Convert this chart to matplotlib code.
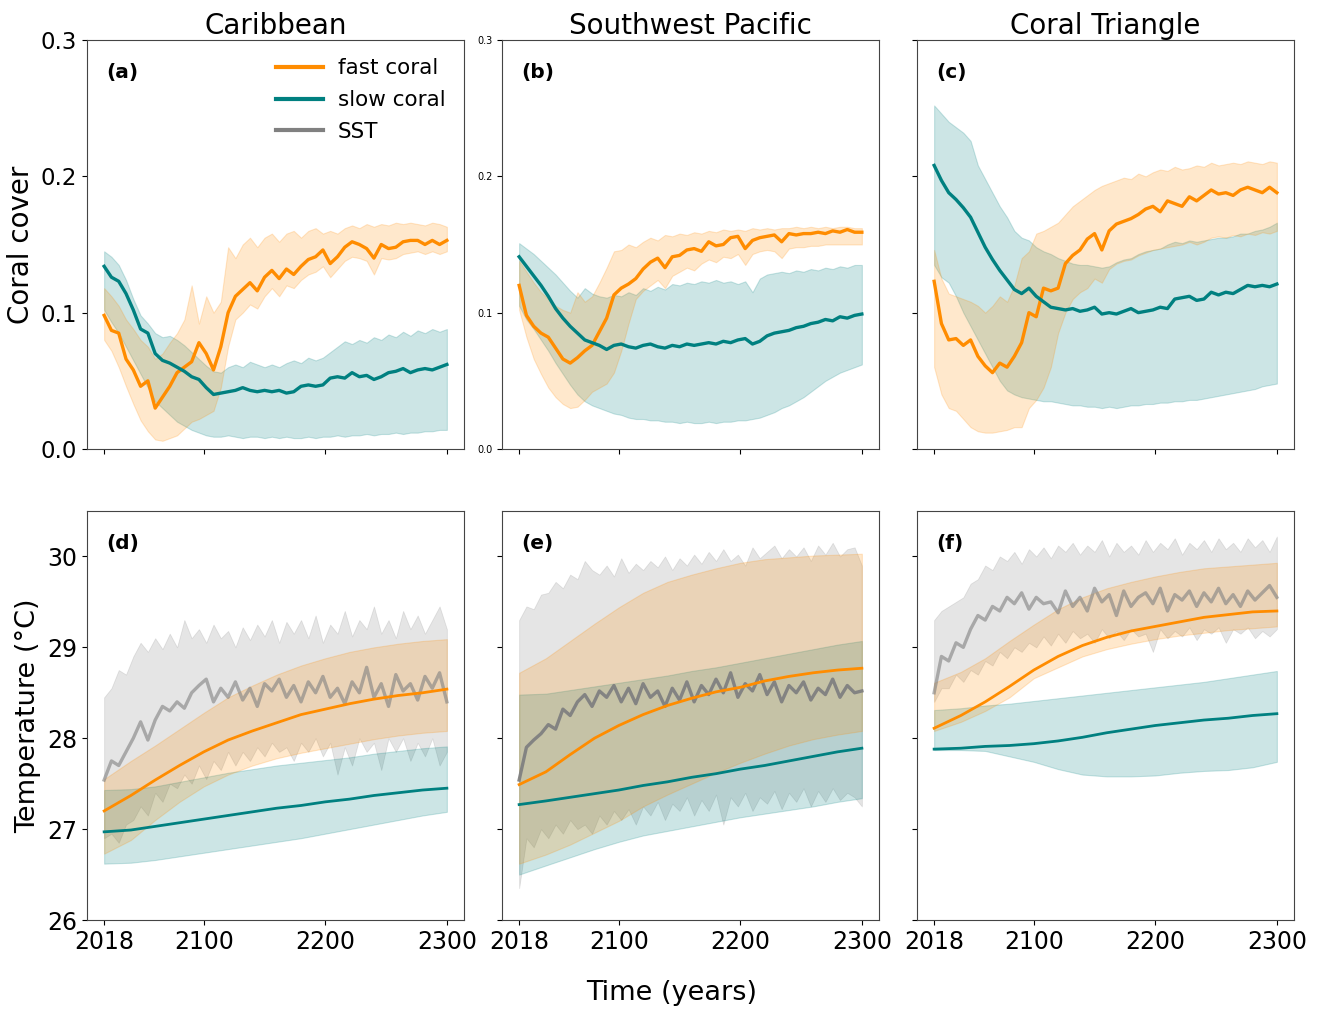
import matplotlib
matplotlib.use('Agg')
import matplotlib.pyplot as plt
from matplotlib.lines import Line2D

# ---------------- data ----------------
years = list(range(2018, 2301, 6))   # 48 sample years for noisy series
years_smooth = [2018, 2040, 2060, 2080, 2100, 2120, 2140, 2160, 2180, 2200, 2220, 2240, 2260, 2280, 2300]
regions = ['Caribbean', 'Southwest Pacific', 'Coral Triangle']
xticks = [2018, 2100, 2200, 2300]
cover_ticks = [0.0, 0.1, 0.2, 0.3]
temp_ticks = [26, 27, 28, 29, 30]

# --- coral cover: Caribbean ---
car_fast = [0.098, 0.087, 0.085, 0.066, 0.058, 0.046, 0.050, 0.030, 0.038, 0.046, 0.056, 0.060,
            0.064, 0.078, 0.070, 0.058, 0.075, 0.100, 0.112, 0.117, 0.122, 0.116, 0.126, 0.131,
            0.125, 0.132, 0.128, 0.134, 0.139, 0.141, 0.146, 0.136, 0.141, 0.148, 0.152, 0.150,
            0.147, 0.140, 0.150, 0.147, 0.148, 0.152, 0.153, 0.153, 0.150, 0.153, 0.150, 0.153]
car_fast_hi = [0.118, 0.112, 0.105, 0.095, 0.088, 0.080, 0.075, 0.066, 0.070, 0.078, 0.085, 0.095,
               0.120, 0.092, 0.112, 0.100, 0.108, 0.148, 0.140, 0.150, 0.155, 0.148, 0.155, 0.158,
               0.152, 0.158, 0.160, 0.155, 0.160, 0.162, 0.158, 0.160, 0.158, 0.162, 0.164, 0.162,
               0.165, 0.163, 0.165, 0.164, 0.166, 0.165, 0.166, 0.165, 0.164, 0.166, 0.165, 0.163]
car_fast_lo = [0.080, 0.072, 0.060, 0.046, 0.033, 0.021, 0.013, 0.007, 0.006, 0.008, 0.010, 0.015,
               0.020, 0.022, 0.025, 0.028, 0.045, 0.075, 0.095, 0.100, 0.106, 0.103, 0.112, 0.118,
               0.112, 0.120, 0.118, 0.124, 0.128, 0.130, 0.134, 0.126, 0.132, 0.138, 0.141, 0.140,
               0.138, 0.128, 0.140, 0.139, 0.140, 0.143, 0.144, 0.145, 0.143, 0.145, 0.143, 0.145]
car_slow = [0.134, 0.126, 0.123, 0.114, 0.102, 0.088, 0.085, 0.070, 0.065, 0.063, 0.060, 0.057,
            0.053, 0.051, 0.045, 0.040, 0.041, 0.042, 0.043, 0.045, 0.043, 0.042, 0.043, 0.042,
            0.043, 0.041, 0.042, 0.046, 0.047, 0.046, 0.047, 0.052, 0.053, 0.052, 0.056, 0.053,
            0.054, 0.051, 0.053, 0.056, 0.057, 0.059, 0.056, 0.058, 0.059, 0.058, 0.060, 0.062]
car_slow_hi = [0.145, 0.141, 0.135, 0.124, 0.110, 0.098, 0.092, 0.085, 0.082, 0.083, 0.080, 0.076,
               0.071, 0.066, 0.061, 0.057, 0.056, 0.060, 0.062, 0.060, 0.064, 0.062, 0.060, 0.062,
               0.060, 0.063, 0.065, 0.063, 0.067, 0.065, 0.067, 0.071, 0.075, 0.079, 0.077, 0.080,
               0.078, 0.082, 0.080, 0.084, 0.082, 0.086, 0.083, 0.087, 0.085, 0.088, 0.086, 0.088]
car_slow_lo = [0.102, 0.093, 0.085, 0.075, 0.065, 0.055, 0.045, 0.035, 0.030, 0.025, 0.020, 0.017,
               0.014, 0.012, 0.010, 0.009, 0.009, 0.010, 0.009, 0.008, 0.009, 0.009, 0.008, 0.009,
               0.008, 0.009, 0.008, 0.008, 0.009, 0.008, 0.009, 0.009, 0.010, 0.009, 0.010, 0.010,
               0.011, 0.010, 0.011, 0.011, 0.012, 0.011, 0.012, 0.012, 0.013, 0.013, 0.014, 0.014]

# --- coral cover: Southwest Pacific ---
swp_fast = [0.120, 0.098, 0.090, 0.085, 0.082, 0.074, 0.066, 0.063, 0.067, 0.072, 0.076, 0.086,
            0.096, 0.113, 0.118, 0.121, 0.125, 0.132, 0.137, 0.140, 0.133, 0.141, 0.142, 0.146,
            0.147, 0.145, 0.152, 0.149, 0.150, 0.155, 0.156, 0.147, 0.153, 0.155, 0.156, 0.157,
            0.152, 0.158, 0.157, 0.158, 0.158, 0.159, 0.158, 0.160, 0.159, 0.161, 0.159, 0.159]
swp_fast_hi = [0.138, 0.130, 0.122, 0.115, 0.110, 0.105, 0.102, 0.100, 0.115, 0.108, 0.112, 0.122,
               0.133, 0.145, 0.146, 0.150, 0.148, 0.152, 0.155, 0.153, 0.157, 0.156, 0.158, 0.157,
               0.159, 0.158, 0.160, 0.159, 0.161, 0.160, 0.161, 0.160, 0.162, 0.161, 0.162, 0.161,
               0.162, 0.162, 0.163, 0.162, 0.163, 0.162, 0.163, 0.162, 0.163, 0.163, 0.162, 0.162]
swp_fast_lo = [0.102, 0.082, 0.066, 0.055, 0.045, 0.038, 0.033, 0.030, 0.031, 0.036, 0.042, 0.045,
               0.048, 0.056, 0.072, 0.092, 0.110, 0.116, 0.120, 0.124, 0.118, 0.127, 0.130, 0.133,
               0.131, 0.136, 0.139, 0.137, 0.141, 0.140, 0.143, 0.135, 0.143, 0.145, 0.146, 0.145,
               0.140, 0.147, 0.148, 0.148, 0.149, 0.149, 0.150, 0.150, 0.150, 0.150, 0.150, 0.150]
swp_slow = [0.141, 0.134, 0.127, 0.120, 0.112, 0.103, 0.096, 0.090, 0.085, 0.080, 0.078, 0.076,
            0.073, 0.076, 0.077, 0.075, 0.074, 0.076, 0.077, 0.075, 0.074, 0.076, 0.075, 0.077,
            0.076, 0.077, 0.078, 0.077, 0.079, 0.078, 0.080, 0.081, 0.077, 0.079, 0.083, 0.085,
            0.086, 0.087, 0.089, 0.090, 0.092, 0.093, 0.095, 0.094, 0.097, 0.096, 0.098, 0.099]
swp_slow_hi = [0.151, 0.147, 0.143, 0.138, 0.133, 0.128, 0.122, 0.116, 0.111, 0.118, 0.114, 0.112,
               0.111, 0.113, 0.112, 0.115, 0.113, 0.118, 0.116, 0.119, 0.117, 0.121, 0.120, 0.122,
               0.121, 0.123, 0.122, 0.124, 0.122, 0.123, 0.121, 0.123, 0.115, 0.125, 0.128, 0.129,
               0.130, 0.129, 0.131, 0.130, 0.132, 0.131, 0.133, 0.132, 0.134, 0.133, 0.135, 0.135]
swp_slow_lo = [0.105, 0.095, 0.088, 0.080, 0.072, 0.063, 0.055, 0.047, 0.040, 0.035, 0.032, 0.030,
               0.028, 0.026, 0.025, 0.023, 0.022, 0.022, 0.021, 0.021, 0.020, 0.020, 0.019, 0.020,
               0.019, 0.019, 0.020, 0.019, 0.020, 0.020, 0.021, 0.021, 0.022, 0.023, 0.025, 0.027,
               0.030, 0.032, 0.035, 0.038, 0.042, 0.046, 0.050, 0.053, 0.056, 0.058, 0.060, 0.062]

# --- coral cover: Coral Triangle ---
ct_fast = [0.123, 0.092, 0.080, 0.081, 0.076, 0.080, 0.068, 0.061, 0.056, 0.063, 0.060, 0.068,
           0.078, 0.100, 0.097, 0.118, 0.116, 0.118, 0.136, 0.142, 0.146, 0.154, 0.158, 0.146,
           0.160, 0.165, 0.167, 0.169, 0.172, 0.176, 0.178, 0.174, 0.182, 0.180, 0.178, 0.185,
           0.182, 0.186, 0.190, 0.187, 0.188, 0.186, 0.190, 0.192, 0.190, 0.188, 0.192, 0.188]
ct_fast_hi = [0.146, 0.125, 0.114, 0.112, 0.110, 0.108, 0.105, 0.100, 0.105, 0.112, 0.108, 0.120,
              0.140, 0.145, 0.158, 0.160, 0.163, 0.166, 0.172, 0.178, 0.182, 0.186, 0.190, 0.193,
              0.195, 0.197, 0.199, 0.198, 0.202, 0.200, 0.203, 0.205, 0.204, 0.207, 0.205, 0.206,
              0.208, 0.207, 0.210, 0.208, 0.209, 0.210, 0.209, 0.211, 0.210, 0.209, 0.211, 0.210]
ct_fast_lo = [0.060, 0.040, 0.030, 0.028, 0.022, 0.016, 0.013, 0.012, 0.012, 0.013, 0.014, 0.016,
              0.016, 0.030, 0.036, 0.045, 0.060, 0.085, 0.100, 0.110, 0.115, 0.118, 0.125, 0.122,
              0.132, 0.136, 0.138, 0.139, 0.142, 0.144, 0.146, 0.147, 0.148, 0.149, 0.150, 0.152,
              0.150, 0.152, 0.155, 0.156, 0.155, 0.157, 0.156, 0.158, 0.157, 0.159, 0.158, 0.160]
ct_slow = [0.208, 0.197, 0.188, 0.183, 0.177, 0.170, 0.159, 0.148, 0.139, 0.131, 0.124, 0.117,
           0.114, 0.118, 0.112, 0.108, 0.104, 0.103, 0.102, 0.103, 0.101, 0.102, 0.104, 0.099,
           0.100, 0.099, 0.101, 0.103, 0.100, 0.101, 0.102, 0.104, 0.103, 0.110, 0.111, 0.112,
           0.109, 0.110, 0.115, 0.113, 0.115, 0.114, 0.117, 0.120, 0.119, 0.120, 0.119, 0.121]
ct_slow_hi = [0.252, 0.246, 0.240, 0.236, 0.232, 0.226, 0.208, 0.198, 0.188, 0.178, 0.170, 0.160,
              0.155, 0.153, 0.148, 0.145, 0.143, 0.140, 0.138, 0.136, 0.135, 0.135, 0.134, 0.133,
              0.134, 0.137, 0.139, 0.140, 0.143, 0.145, 0.146, 0.147, 0.150, 0.152, 0.151, 0.153,
              0.152, 0.153, 0.154, 0.155, 0.155, 0.156, 0.158, 0.158, 0.160, 0.161, 0.163, 0.166]
ct_slow_lo = [0.135, 0.126, 0.122, 0.112, 0.100, 0.090, 0.080, 0.070, 0.060, 0.050, 0.043, 0.040,
              0.038, 0.037, 0.036, 0.035, 0.035, 0.034, 0.033, 0.032, 0.032, 0.031, 0.031, 0.030,
              0.031, 0.030, 0.031, 0.032, 0.032, 0.033, 0.033, 0.034, 0.034, 0.035, 0.035, 0.036,
              0.036, 0.037, 0.038, 0.039, 0.040, 0.041, 0.042, 0.043, 0.044, 0.046, 0.047, 0.048]

# --- temperature: Caribbean ---
car_tfast = [27.20, 27.37, 27.54, 27.70, 27.85, 27.98, 28.08, 28.17, 28.26, 28.32, 28.38, 28.43, 28.47, 28.50, 28.54]
car_tfast_hi = [27.55, 27.75, 27.92, 28.10, 28.28, 28.45, 28.58, 28.70, 28.80, 28.88, 28.95, 29.00, 29.04, 29.07, 29.09]
car_tfast_lo = [26.73, 26.88, 27.10, 27.30, 27.47, 27.60, 27.70, 27.78, 27.84, 27.89, 27.94, 27.99, 28.03, 28.06, 28.08]
car_tslow = [26.97, 26.99, 27.03, 27.07, 27.11, 27.15, 27.19, 27.23, 27.26, 27.30, 27.33, 27.37, 27.40, 27.43, 27.45]
car_tslow_hi = [27.43, 27.44, 27.47, 27.52, 27.57, 27.62, 27.66, 27.70, 27.73, 27.76, 27.79, 27.83, 27.86, 27.89, 27.91]
car_tslow_lo = [26.62, 26.63, 26.66, 26.70, 26.74, 26.78, 26.82, 26.86, 26.90, 26.95, 27.00, 27.05, 27.10, 27.15, 27.19]
car_sst = [27.54, 27.75, 27.70, 27.85, 28.00, 28.18, 27.98, 28.20, 28.35, 28.30, 28.40, 28.33,
           28.50, 28.58, 28.65, 28.40, 28.55, 28.45, 28.62, 28.42, 28.55, 28.35, 28.60, 28.52,
           28.65, 28.45, 28.58, 28.40, 28.62, 28.50, 28.68, 28.45, 28.55, 28.38, 28.62, 28.50,
           28.78, 28.45, 28.60, 28.35, 28.70, 28.52, 28.60, 28.42, 28.68, 28.55, 28.72, 28.40]
car_sst_hi = [28.45, 28.55, 28.75, 28.70, 28.90, 29.05, 28.95, 29.10, 28.98, 29.15, 29.00, 29.30,
              29.10, 29.20, 29.05, 29.25, 29.10, 29.18, 29.00, 29.22, 29.08, 29.25, 29.12, 29.30,
              29.05, 29.28, 29.15, 29.30, 29.10, 29.35, 29.05, 29.25, 29.15, 29.40, 29.12, 29.30,
              29.20, 29.45, 29.15, 29.30, 29.10, 29.40, 29.20, 29.35, 29.15, 29.30, 29.45, 29.20]
car_sst_lo = [26.90, 26.95, 26.85, 27.05, 27.10, 27.25, 27.15, 27.40, 27.30, 27.50, 27.45, 27.60,
              27.50, 27.70, 27.55, 27.75, 27.65, 27.85, 27.70, 27.85, 27.75, 27.90, 27.80, 27.95,
              27.85, 27.90, 27.75, 27.95, 27.85, 28.00, 27.80, 27.95, 27.60, 27.90, 27.70, 28.00,
              27.85, 27.95, 27.65, 28.00, 27.85, 28.00, 27.75, 27.95, 27.80, 28.00, 27.70, 27.85]

# --- temperature: Southwest Pacific ---
swp_tfast = [27.49, 27.63, 27.82, 28.00, 28.14, 28.26, 28.36, 28.44, 28.51, 28.56, 28.63, 28.68, 28.72, 28.75, 28.77]
swp_tfast_hi = [28.72, 28.88, 29.07, 29.26, 29.44, 29.60, 29.72, 29.80, 29.87, 29.93, 29.97, 29.99, 30.01, 30.02, 30.03]
swp_tfast_lo = [26.62, 26.72, 26.83, 26.96, 27.09, 27.25, 27.38, 27.50, 27.62, 27.73, 27.83, 27.92, 27.99, 28.04, 28.08]
swp_tslow = [27.27, 27.31, 27.35, 27.39, 27.43, 27.48, 27.52, 27.57, 27.61, 27.66, 27.70, 27.75, 27.80, 27.85, 27.89]
swp_tslow_hi = [28.48, 28.49, 28.53, 28.57, 28.61, 28.65, 28.69, 28.74, 28.78, 28.83, 28.88, 28.93, 28.98, 29.03, 29.07]
swp_tslow_lo = [26.50, 26.60, 26.69, 26.78, 26.86, 26.93, 26.98, 27.03, 27.08, 27.13, 27.17, 27.21, 27.25, 27.30, 27.34]
swp_sst = [27.54, 27.90, 27.98, 28.05, 28.15, 28.10, 28.32, 28.25, 28.40, 28.48, 28.35, 28.52,
           28.45, 28.58, 28.40, 28.55, 28.38, 28.60, 28.45, 28.52, 28.35, 28.55, 28.42, 28.62,
           28.40, 28.58, 28.48, 28.65, 28.50, 28.72, 28.45, 28.60, 28.52, 28.70, 28.48, 28.62,
           28.40, 28.58, 28.50, 28.62, 28.42, 28.55, 28.48, 28.65, 28.45, 28.58, 28.50, 28.52]
swp_sst_hi = [29.30, 29.45, 29.42, 29.58, 29.60, 29.72, 29.65, 29.80, 29.75, 29.95, 29.85, 29.80,
              29.90, 29.78, 29.98, 29.82, 29.92, 29.85, 29.95, 29.88, 30.00, 29.85, 29.98, 29.90,
              30.02, 29.92, 30.05, 29.95, 30.08, 29.95, 30.02, 29.90, 30.10, 29.98, 30.05, 30.12,
              29.98, 30.08, 30.00, 30.10, 29.95, 30.12, 30.02, 30.15, 30.00, 30.08, 30.10, 29.90]
swp_sst_lo = [26.35, 26.90, 26.80, 27.00, 26.90, 27.05, 26.95, 27.10, 27.00, 27.05, 26.95, 27.15,
              27.05, 27.20, 27.10, 27.22, 27.05, 27.25, 27.15, 27.30, 27.10, 27.28, 27.20, 27.35,
              27.15, 27.32, 27.20, 27.38, 27.05, 27.35, 27.25, 27.40, 27.20, 27.35, 27.28, 27.42,
              27.22, 27.40, 27.30, 27.45, 27.25, 27.42, 27.30, 27.45, 27.32, 27.40, 27.35, 27.25]

# --- temperature: Coral Triangle ---
ct_tfast = [28.11, 28.25, 28.40, 28.57, 28.75, 28.90, 29.02, 29.11, 29.18, 29.23, 29.28, 29.33, 29.36, 29.39, 29.40]
ct_tfast_hi = [28.61, 28.73, 28.88, 29.07, 29.25, 29.42, 29.55, 29.65, 29.72, 29.78, 29.83, 29.87, 29.89, 29.91, 29.93]
ct_tfast_lo = [28.08, 28.18, 28.30, 28.45, 28.66, 28.78, 28.90, 28.98, 29.04, 29.09, 29.13, 29.16, 29.19, 29.21, 29.23]
ct_tslow = [27.88, 27.89, 27.91, 27.92, 27.94, 27.97, 28.01, 28.06, 28.10, 28.14, 28.17, 28.20, 28.22, 28.25, 28.27]
ct_tslow_hi = [28.31, 28.33, 28.36, 28.38, 28.41, 28.44, 28.47, 28.50, 28.53, 28.56, 28.59, 28.62, 28.66, 28.70, 28.74]
ct_tslow_lo = [27.87, 27.87, 27.86, 27.80, 27.74, 27.66, 27.60, 27.58, 27.58, 27.59, 27.62, 27.64, 27.65, 27.68, 27.74]
ct_sst = [28.50, 28.90, 28.85, 29.05, 29.00, 29.20, 29.35, 29.30, 29.45, 29.40, 29.55, 29.48,
          29.60, 29.42, 29.55, 29.48, 29.50, 29.38, 29.62, 29.45, 29.55, 29.40, 29.65, 29.50,
          29.58, 29.35, 29.62, 29.45, 29.55, 29.60, 29.48, 29.65, 29.40, 29.58, 29.52, 29.62,
          29.45, 29.60, 29.50, 29.65, 29.48, 29.58, 29.45, 29.62, 29.52, 29.60, 29.68, 29.55]
ct_sst_hi = [29.30, 29.40, 29.45, 29.50, 29.55, 29.70, 29.75, 29.90, 29.85, 30.00, 29.95, 30.05,
             29.92, 30.08, 30.00, 30.10, 29.98, 30.12, 30.05, 30.15, 30.02, 30.12, 30.05, 30.18,
             30.00, 30.15, 30.05, 30.12, 30.02, 30.18, 30.05, 30.15, 30.08, 30.20, 30.02, 30.15,
             30.08, 30.18, 30.05, 30.20, 30.08, 30.15, 30.05, 30.20, 30.10, 30.18, 30.05, 30.22]
ct_sst_lo = [28.40, 28.55, 28.55, 28.70, 28.62, 28.75, 28.70, 28.85, 28.80, 28.95, 28.88, 29.00,
             28.95, 29.05, 29.00, 29.12, 29.02, 29.15, 29.05, 29.18, 29.10, 29.15, 29.05, 29.20,
             29.10, 29.18, 29.08, 29.20, 29.12, 29.15, 28.95, 29.20, 29.10, 29.18, 29.12, 29.22,
             29.08, 29.20, 29.15, 29.22, 29.05, 29.20, 29.15, 29.22, 29.10, 29.18, 29.12, 29.20]

# ---------------- plotting ----------------
FAST = '#ff8c00'
SLOW = '#008080'
SSTC = '#808080'
sst_line_alpha = [0.6, 0.95, 0.6]

cover = [
    (car_fast, car_fast_lo, car_fast_hi, car_slow, car_slow_lo, car_slow_hi),
    (swp_fast, swp_fast_lo, swp_fast_hi, swp_slow, swp_slow_lo, swp_slow_hi),
    (ct_fast, ct_fast_lo, ct_fast_hi, ct_slow, ct_slow_lo, ct_slow_hi),
]
temps = [
    (car_tfast, car_tfast_lo, car_tfast_hi, car_tslow, car_tslow_lo, car_tslow_hi, car_sst, car_sst_lo, car_sst_hi),
    (swp_tfast, swp_tfast_lo, swp_tfast_hi, swp_tslow, swp_tslow_lo, swp_tslow_hi, swp_sst, swp_sst_lo, swp_sst_hi),
    (ct_tfast, ct_tfast_lo, ct_tfast_hi, ct_tslow, ct_tslow_lo, ct_tslow_hi, ct_sst, ct_sst_lo, ct_sst_hi),
]

W, H = 1319, 1009
fig = plt.figure(figsize=(W / 100, H / 100), dpi=100)
lefts = [87, 502, 917]
aw, ah = 377, 409
top_row_top, bot_row_top = 40, 511

def make_ax(lx, ty):
    return fig.add_axes([lx / W, 1 - (ty + ah) / H, aw / W, ah / H])

letters_top = ['(a)', '(b)', '(c)']
letters_bot = ['(d)', '(e)', '(f)']

for j in range(3):
    # ---- coral cover ----
    ax = make_ax(lefts[j], top_row_top)
    f, flo, fhi, s, slo, shi = cover[j]
    ax.fill_between(years, slo, shi, color=SLOW, alpha=0.2, linewidth=0.8)
    ax.fill_between(years, flo, fhi, color=FAST, alpha=0.2, linewidth=0.8)
    ax.plot(years, f, color=FAST, lw=2.4)
    ax.plot(years, s, color=SLOW, lw=2.4)
    ax.set_ylim(0, 0.3)
    ax.set_yticks(cover_ticks)
    ax.set_xticks(xticks)
    ax.tick_params(axis='x', labelbottom=False)
    if j == 0:
        ax.tick_params(axis='y', labelsize=16.5)
        ax.set_ylabel('Coral cover', fontsize=20)
    elif j == 1:
        ax.tick_params(axis='y', labelsize=7)
    else:
        ax.tick_params(axis='y', labelleft=False)
    ax.set_title(regions[j], fontsize=20, pad=4)
    ax.text(0.05, 0.92, letters_top[j], transform=ax.transAxes, fontsize=14.5,
            fontweight='bold', va='center', ha='left')
    for sp in ax.spines.values():
        sp.set_color('#444444')
    if j == 0:
        handles = [Line2D([], [], color=FAST, lw=3),
                   Line2D([], [], color=SLOW, lw=3),
                   Line2D([], [], color=SSTC, lw=3)]
        ax.legend(handles, ['fast coral', 'slow coral', 'SST'], loc='upper right',
                  frameon=False, fontsize=15.5, handlelength=2.2, borderaxespad=0.45,
                  labelspacing=0.55, handletextpad=0.7)

    # ---- temperature ----
    ax = make_ax(lefts[j], bot_row_top)
    tf, tflo, tfhi, ts, tslo, tshi, sst, sstlo, ssthi = temps[j]
    ax.fill_between(years, sstlo, ssthi, color=SSTC, alpha=0.2, linewidth=0.6)
    ax.plot(years, sst, color=SSTC, lw=2.4, alpha=sst_line_alpha[j])
    ax.fill_between(years_smooth, tslo, tshi, color=SLOW, alpha=0.2, linewidth=0.8)
    ax.fill_between(years_smooth, tflo, tfhi, color=FAST, alpha=0.2, linewidth=0.8)
    ax.plot(years_smooth, tf, color=FAST, lw=2.0)
    ax.plot(years_smooth, ts, color=SLOW, lw=2.0)
    ax.set_ylim(26, 30.5)
    ax.set_yticks(temp_ticks)
    ax.set_xticks(xticks)
    ax.tick_params(axis='x', labelsize=17)
    if j == 0:
        ax.tick_params(axis='y', labelsize=17)
        ax.set_ylabel('Temperature (°C)', fontsize=19.5)
    else:
        ax.tick_params(axis='y', labelleft=False)
    ax.text(0.05, 0.92, letters_bot[j], transform=ax.transAxes, fontsize=14.5,
            fontweight='bold', va='center', ha='left')
    for sp in ax.spines.values():
        sp.set_color('#444444')

fig.text(0.509, 0.003, 'Time (years)', ha='center', va='bottom', fontsize=19.5)

fig.savefig('out.png', dpi=100)
